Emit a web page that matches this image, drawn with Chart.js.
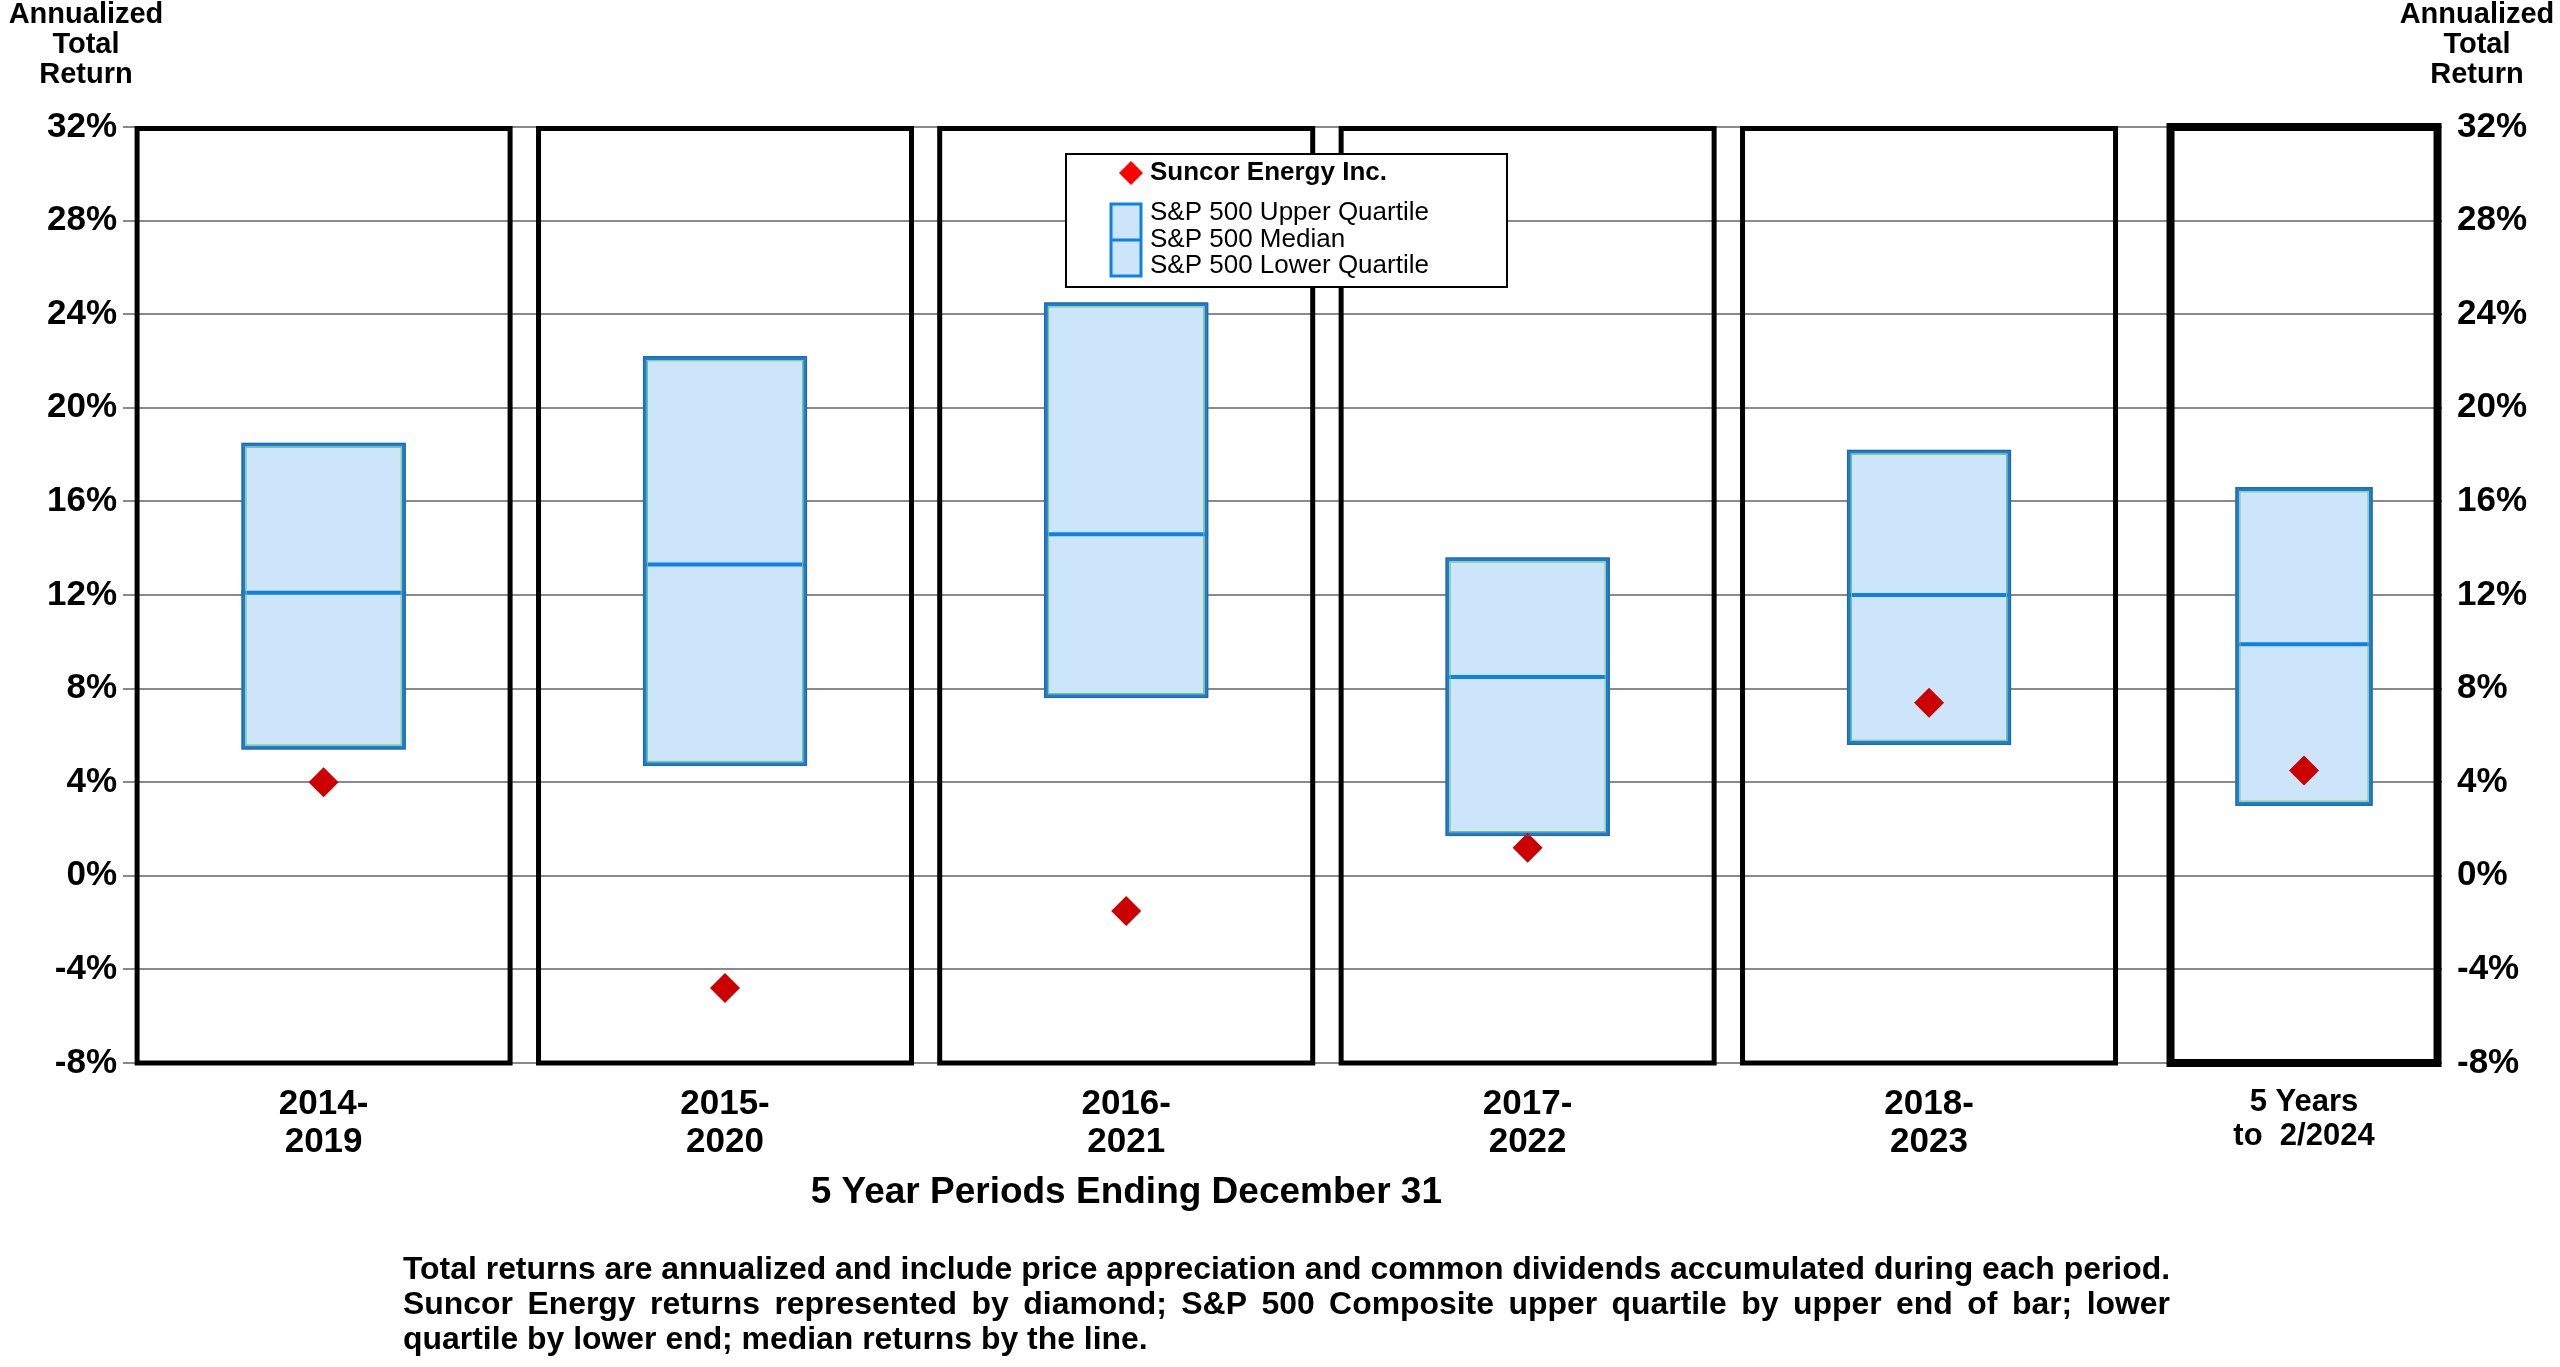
<!DOCTYPE html>
<html>
<head>
<meta charset="utf-8">
<script src="https://cdn.jsdelivr.net/npm/chart.js@4.4.1/dist/chart.umd.min.js"></script>
<style>
html, body { margin: 0; padding: 0; background: #fff; }
canvas { display: block; }
</style>
</head>
<body>
<canvas id="quartileChart" width="2560" height="1367"></canvas>
<script>
// datos
const periods = [['2014-', '2019'], ['2015-', '2020'], ['2016-', '2021'], ['2017-', '2022'], ['2018-', '2023'], ['5 Years', 'to  2/2024']];
const upperQuartile = [18.5, 22.2, 24.5, 13.6, 18.2, 16.6];
const medianReturn = [12.1, 13.3, 14.6, 8.5, 12.0, 9.9];
const lowerQuartile = [5.4, 4.7, 7.6, 1.7, 5.6, 3.0];
const suncorReturn = [4.0, -4.8, -1.5, 1.2, 7.4, 4.5];
const yTicks = [-8, -4, 0, 4, 8, 12, 16, 20, 24, 28, 32];

const sideTitle = ['Annualized', 'Total', 'Return'];
const xTitle = '5 Year Periods Ending December 31';
const legendLabels = ['Suncor Energy Inc.', 'S&P 500 Upper Quartile', 'S&P 500 Median', 'S&P 500 Lower Quartile'];
const footnote = [
    'Total returns are annualized and include price appreciation and common dividends accumulated during each period.',
    'Suncor Energy returns represented by diamond; S&P 500 Composite upper quartile by upper end of bar; lower',
    'quartile by lower end; median returns by the line.'
];

const FONT = 'Liberation Sans, Arial, Helvetica, sans-serif';
const BOX_FILL = '#cce5fb';
const BOX_EDGE = '#0f80e6';
const DIAMOND = '#cc0000';
const GRID = '#8a8a8a';

// centro de cada panel como fraccion del area de la grafica
const PANEL_CENTERS = [0.0865, 0.2596, 0.4326, 0.6057, 0.7788, 0.9405];
const last = periods.length - 1;

class PanelScale extends Chart.CategoryScale {
    getPixelForValue(value) {
        if (typeof value !== 'number') value = this.parse(value);
        if (value === null || isNaN(value)) return NaN;
        return this.left + this.width * PANEL_CENTERS[Math.round(value)];
    }
}
PanelScale.id = 'panelCategory';
PanelScale.defaults = Chart.CategoryScale.defaults;
Chart.register(PanelScale);

Chart.defaults.font.family = FONT;
Chart.defaults.color = '#000';

const panelFrames = {
    id: 'panelFrames',
    beforeDatasetsDraw(chart) {
        const ctx = chart.ctx;
        const x = chart.scales.x, y = chart.scales.y;
        const top = y.getPixelForValue(yTicks[yTicks.length - 1]);
        const bottom = y.getPixelForValue(yTicks[0]);
        ctx.save();
        ctx.strokeStyle = '#000';
        periods.forEach((p, i) => {
            const cx = x.getPixelForValue(i);
            if (i === last) {
                ctx.lineWidth = 8;
                ctx.strokeRect(cx - 133.5, top, 267, bottom - top);
            } else {
                ctx.lineWidth = 5;
                ctx.strokeRect(cx - 186.5, top + 1.5, 373, bottom - top - 1.5);
            }
        });
        ctx.restore();
    }
};

function drawJustified(ctx, text, x, y, width) {
    const words = text.split(' ');
    let total = 0;
    words.forEach(w => total += ctx.measureText(w).width);
    const gap = (width - total) / (words.length - 1);
    let cx = x;
    words.forEach(w => {
        ctx.fillText(w, cx, y);
        cx += ctx.measureText(w).width + gap;
    });
}

const extras = {
    id: 'extras',
    afterDatasetsDraw(chart) {
        const ctx = chart.ctx;
        ctx.save();

        // bordes finos de las cajas (gris por fuera, verde por dentro)
        chart.data.datasets.forEach((ds, di) => {
            if (ds.type === 'line') return;
            chart.getDatasetMeta(di).data.forEach((bar, i) => {
                if (ds.data[i] === null) return;
                const l = bar.x - bar.width / 2, r = bar.x + bar.width / 2;
                const t = Math.min(bar.y, bar.base), b = Math.max(bar.y, bar.base);
                ctx.lineWidth = 1;
                ctx.strokeStyle = '#44606a';
                ctx.strokeRect(l + 0.5, t + 0.5, r - l - 1, b - t - 1);
                ctx.strokeStyle = '#86c05a';
                ctx.strokeRect(l + 4.5, t + 4.5, r - l - 9, b - t - 9);
            });
        });

        // leyenda
        const lx = 1066, ly = 154, lw = 441, lh = 133;
        ctx.fillStyle = '#fff';
        ctx.fillRect(lx, ly, lw, lh);
        ctx.strokeStyle = '#000';
        ctx.lineWidth = 2;
        ctx.strokeRect(lx, ly, lw, lh);

        ctx.fillStyle = '#ff0000';
        ctx.beginPath();
        ctx.moveTo(1131, 161); ctx.lineTo(1143, 173); ctx.lineTo(1131, 185); ctx.lineTo(1119, 173);
        ctx.closePath();
        ctx.fill();

        ctx.fillStyle = BOX_FILL;
        ctx.fillRect(1111, 204, 30, 72);
        ctx.strokeStyle = BOX_EDGE;
        ctx.lineWidth = 3;
        ctx.strokeRect(1111, 204, 30, 72);
        ctx.beginPath();
        ctx.moveTo(1111, 240); ctx.lineTo(1141, 240);
        ctx.stroke();

        ctx.fillStyle = '#000';
        ctx.textBaseline = 'middle';
        ctx.textAlign = 'left';
        ctx.font = 'bold 26px ' + FONT;
        ctx.fillText(legendLabels[0], 1150, 173);
        ctx.font = '26px ' + FONT;
        ctx.fillText(legendLabels[1], 1150, 213);
        ctx.fillText(legendLabels[2], 1150, 240);
        ctx.fillText(legendLabels[3], 1150, 266);
        ctx.restore();
    },
    afterDraw(chart) {
        const ctx = chart.ctx;
        const x = chart.scales.x;
        ctx.save();
        ctx.fillStyle = '#000';
        ctx.textBaseline = 'middle';

        // titulos de los ejes y
        ctx.textAlign = 'center';
        ctx.font = 'bold 29px ' + FONT;
        sideTitle.forEach((t, i) => {
            ctx.fillText(t, 86, 15 + i * 30);
            ctx.fillText(t, 2477, 15 + i * 30);
        });

        // titulo del eje x, centrado en los periodos de 5 anos
        ctx.font = 'bold 37px ' + FONT;
        const mid = (x.getPixelForValue(0) + x.getPixelForValue(last - 1)) / 2;
        ctx.fillText(xTitle, mid, 1193);

        // nota al pie
        ctx.textAlign = 'left';
        ctx.font = 'bold 28px ' + FONT;
        const w1 = ctx.measureText(footnote[0]).width;
        const fs = 28 * 1767 / w1;
        ctx.font = 'bold ' + fs.toFixed(2) + 'px ' + FONT;
        drawJustified(ctx, footnote[0], 403, 1270, 1767);
        drawJustified(ctx, footnote[1], 403, 1305, 1767);
        ctx.fillText(footnote[2], 403, 1340);
        ctx.restore();
    }
};

const ctx = document.getElementById('quartileChart').getContext('2d');

const chart = new Chart(ctx, {
    type: 'bar',
    data: {
        labels: periods,
        datasets: [
            {
                type: 'line',
                label: legendLabels[0],
                data: suncorReturn,
                showLine: false,
                pointStyle: 'rectRot',
                pointRadius: 15,
                pointBackgroundColor: DIAMOND,
                pointBorderWidth: 0,
                order: 0
            },
            {
                type: 'line',
                label: legendLabels[2],
                data: medianReturn,
                showLine: false,
                pointStyle: 'line',
                pointRadius: periods.map((p, i) => i === last ? 68 : 82),
                pointBorderColor: BOX_EDGE,
                pointBorderWidth: 4,
                order: 1
            },
            {
                label: 'S&P 500 Quartiles',
                data: periods.map((p, i) => i === last ? null : [lowerQuartile[i], upperQuartile[i]]),
                backgroundColor: BOX_FILL,
                borderColor: BOX_EDGE,
                borderWidth: 4,
                borderSkipped: false,
                barThickness: 164,
                grouped: false,
                order: 2
            },
            {
                label: 'S&P 500 Quartiles (5 Years)',
                data: periods.map((p, i) => i === last ? [lowerQuartile[i], upperQuartile[i]] : null),
                backgroundColor: BOX_FILL,
                borderColor: BOX_EDGE,
                borderWidth: 4,
                borderSkipped: false,
                barThickness: 137,
                grouped: false,
                order: 2
            }
        ]
    },
    options: {
        responsive: false,
        animation: false,
        layout: {
            padding: { top: 127, left: 0, right: 0, bottom: 0 }
        },
        plugins: {
            legend: { display: false },
            tooltip: { enabled: false }
        },
        scales: {
            x: {
                type: 'panelCategory',
                grid: { display: false, drawTicks: false },
                border: { display: false },
                ticks: {
                    padding: 22,
                    maxRotation: 0,
                    autoSkip: false,
                    font: (c) => c.index === last
                        ? { size: 31, weight: 'bold', lineHeight: 1.1 }
                        : { size: 35, weight: 'bold', lineHeight: 1.09 }
                },
                afterFit: (s) => { s.height = 304; }
            },
            y: {
                position: 'left',
                min: yTicks[0],
                max: yTicks[yTicks.length - 1],
                grid: { color: GRID, lineWidth: 2, drawTicks: false },
                border: { display: false },
                ticks: {
                    stepSize: 4,
                    padding: 6,
                    font: { size: 35, weight: 'bold' },
                    callback: (v) => v + '%'
                },
                afterFit: (s) => { s.width = 123; }
            },
            y2: {
                position: 'right',
                min: yTicks[0],
                max: yTicks[yTicks.length - 1],
                grid: { display: false, drawTicks: false },
                border: { display: false },
                ticks: {
                    stepSize: 4,
                    padding: 15,
                    font: { size: 35, weight: 'bold' },
                    callback: (v) => v + '%'
                },
                afterFit: (s) => { s.width = 118; }
            }
        }
    },
    plugins: [panelFrames, extras]
});
</script>
</body>
</html>
